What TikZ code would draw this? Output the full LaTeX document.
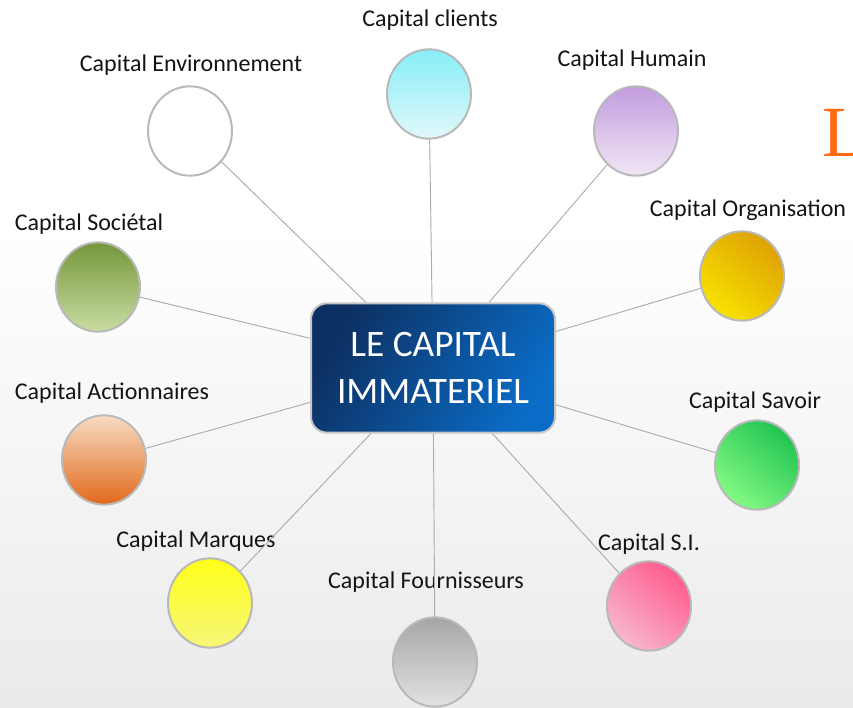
\documentclass[tikz,border=0pt]{standalone}
\usepackage{fontspec}
\setmainfont{Carlito}
\newfontfamily\lettrefont{Liberation Serif}
\usetikzlibrary{shapes.geometric}

\definecolor{navy}{HTML}{0D3062}
\definecolor{royal}{HTML}{0A6CC6}
\definecolor{orangeL}{HTML}{FF6A13}
\definecolor{clientsA}{HTML}{86EEF8}
\definecolor{clientsB}{HTML}{E2F8FA}
\definecolor{humainA}{HTML}{C29DDE}
\definecolor{humainB}{HTML}{F1E6F5}
\definecolor{orgaA}{HTML}{DFA204}
\definecolor{orgaB}{HTML}{F7E200}
\definecolor{societalA}{HTML}{75963A}
\definecolor{societalB}{HTML}{C9DDA2}
\definecolor{actionA}{HTML}{F8DBC4}
\definecolor{actionB}{HTML}{E2691A}
\definecolor{savoirA}{HTML}{22C452}
\definecolor{savoirB}{HTML}{84FA84}
\definecolor{marquesA}{HTML}{FFFF1A}
\definecolor{marquesB}{HTML}{F6F678}
\definecolor{fournA}{HTML}{A6A6A6}
\definecolor{fournB}{HTML}{E2E2E2}
\definecolor{siA}{HTML}{FF5C8E}
\definecolor{siB}{HTML}{F7B6CF}

\tikzset{
	capcircle/.style={ellipse, draw=gray!55, line width=1.5pt, minimum width=63pt, minimum height=67pt, inner sep=0pt},
	caplabel/.style={text=black!92, font=\fontsize{18}{20}\selectfont, inner sep=1pt},
	capline/.style={draw=gray!65, line width=0.7pt},
	capbox/.style={draw=gray!45, line width=1.5pt, rounded corners=12pt, minimum width=183pt, minimum height=97pt,
		top color=navy, bottom color=royal, shading angle=60, text=white, align=center,
		font=\fontsize{28}{35}\selectfont},
}

\begin{document}
\begin{tikzpicture}[x=0.75pt,y=-0.75pt]
	\useasboundingbox (0,0) rectangle (853,707);
	\clip (0,0) rectangle (853,707);
	\fill [white] (0,0) rectangle (853,230);
	\shade [top color=white, bottom color=black!8] (0,230) rectangle (853,707);

	% centre
	\node [capbox] (centre) at (433,368) {LE CAPITAL\\IMMATERIEL};

	% cercles
	\node [capcircle, fill=white] (env) at (190,131) {};
	\node [capcircle, top color=clientsA, bottom color=clientsB] (clients) at (429,94) {};
	\node [capcircle, top color=humainA, bottom color=humainB] (humain) at (636,131) {};
	\node [capcircle, top color=orgaA, bottom color=orgaB, shading angle=-40] (orga) at (742,276) {};
	\node [capcircle, top color=societalA, bottom color=societalB] (societal) at (98,287) {};
	\node [capcircle, top color=actionA, bottom color=actionB] (action) at (104,460) {};
	\node [capcircle, top color=savoirA, bottom color=savoirB, shading angle=-40] (savoir) at (757,465) {};
	\node [capcircle, top color=marquesA, bottom color=marquesB] (marques) at (210,603) {};
	\node [capcircle, top color=fournA, bottom color=fournB] (fourn) at (435,662) {};
	\node [capcircle, top color=siA, bottom color=siB, shading angle=-40] (si) at (649,606) {};

	% textes
	\node [caplabel] (lenv) at (191,65) {Capital Environnement};
	\node [caplabel] (lclients) at (430,20) {Capital clients};
	\node [caplabel] (lhumain) at (632,60) {Capital Humain};
	\node [caplabel] (lorga) at (748,210) {Capital Organisation};
	\node [caplabel] (lsocietal) at (89,224) {Capital Sociétal};
	\node [caplabel] (laction) at (112,393) {Capital Actionnaires};
	\node [caplabel] (lsavoir) at (755,402) {Capital Savoir};
	\node [caplabel] (lmarques) at (196,541) {Capital Marques};
	\node [caplabel] (lfourn) at (426,582) {Capital Fournisseurs};
	\node [caplabel] (lsi) at (649,544) {Capital S.I.};

	\node [anchor=base west, inner sep=0pt, text=orangeL, font=\lettrefont\fontsize{54}{54}\selectfont] (lettre) at (822,156) {L};

	% liens
	\foreach \c in {env,clients,humain,orga,societal,action,savoir,marques,fourn,si}
		\draw [capline] (centre) -- (\c);
\end{tikzpicture}
\end{document}
